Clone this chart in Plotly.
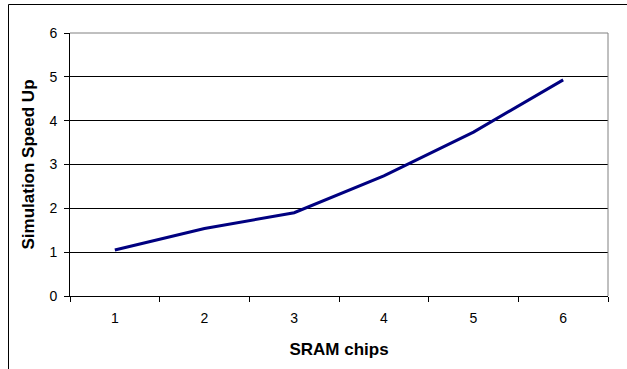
import plotly.graph_objects as go

chips = ["1", "2", "3", "4", "5", "6"]
speedup = [1.05, 1.54, 1.9, 2.74, 3.74, 4.93]
y_ticks = [0, 1, 2, 3, 4, 5, 6]

W, H = 627, 369
L, R, T, B = 70, 19, 33, 73
pw, ph = W - L - R, H - T - B

fig = go.Figure()
fig.add_trace(go.Scatter(x=chips, y=speedup, mode="lines",
                         line=dict(color="#000080", width=3), hoverinfo="skip"))

font = dict(family="Liberation Sans, Arial, sans-serif", color="#000000")

top_y = 1 + (T - 4.5) / ph
left_x = (8.5 - L) / pw

fig.update_layout(
    width=W, height=H,
    margin=dict(l=L, r=R, t=T, b=B, pad=0),
    paper_bgcolor="white", plot_bgcolor="white",
    showlegend=False,
    font=dict(**font, size=14),
    xaxis=dict(
        type="category", tickson="boundaries", ticks="outside", ticklen=5,
        tickcolor="#000000", showline=True, linecolor="#000000", linewidth=1,
        showgrid=False, zeroline=False, tickfont=dict(size=14),
        ticklabelstandoff=9,
        title=dict(text="<b>SRAM chips</b>", font=dict(size=17), standoff=18),
        range=[-0.5, 5.5],
    ),
    yaxis=dict(
        range=[0, 6], tickvals=y_ticks, ticks="outside", ticklen=5,
        tickcolor="#000000", showline=True, linecolor="#000000", linewidth=1,
        showgrid=True, gridcolor="#000000", gridwidth=1, zeroline=False,
        tickfont=dict(size=14), ticklabelstandoff=4,
        title=dict(text="<b>Simulation Speed Up</b>", font=dict(size=17), standoff=10),
    ),
    shapes=[
        dict(type="line", xref="paper", yref="paper", x0=0, x1=1, y0=1, y1=1,
             line=dict(color="#808080", width=1), layer="above"),
        dict(type="line", xref="paper", yref="paper", x0=1, x1=1, y0=0, y1=1,
             line=dict(color="#808080", width=1), layer="above"),
        dict(type="line", xref="paper", yref="paper",
             x0=left_x, x1=left_x, y0=-(B + 5) / ph, y1=top_y,
             line=dict(color="#000000", width=1), layer="above"),
        dict(type="line", xref="paper", yref="paper",
             x0=left_x, x1=1 + (R + 5) / pw, y0=top_y, y1=top_y,
             line=dict(color="#000000", width=1), layer="above"),
    ],
)

fig.write_html("out.html", config={"displayModeBar": False},
               post_script="document.body.style.margin='0';document.body.style.overflow='hidden';")
